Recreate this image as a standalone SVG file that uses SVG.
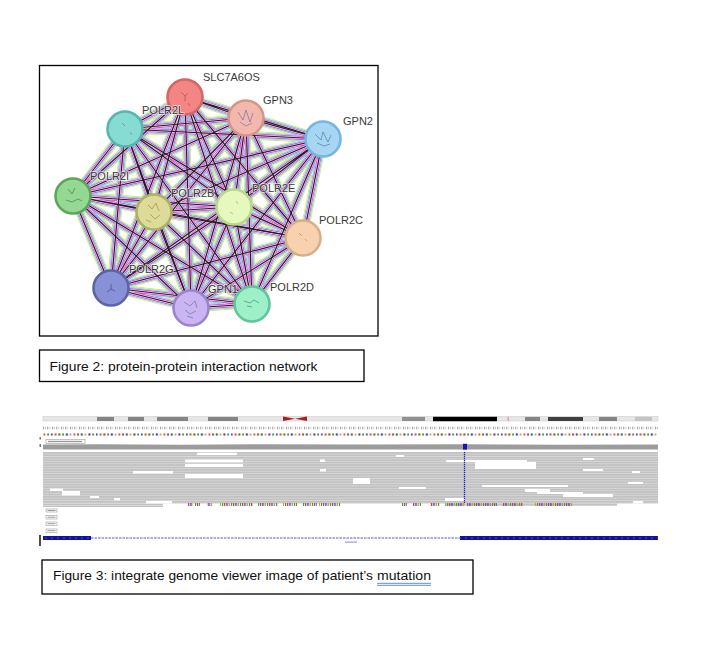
<svg xmlns="http://www.w3.org/2000/svg" xmlns:xlink="http://www.w3.org/1999/xlink" width="721" height="660" viewBox="0 0 721 660">
<style>
.lbl{font-family:"Liberation Sans",Arial,sans-serif;font-size:11px;fill:#3a3a3a;stroke:#fff;stroke-opacity:.6;stroke-width:1.8;paint-order:stroke;stroke-linejoin:round}
.cap{font-family:"Liberation Sans",Arial,sans-serif;font-size:13px;fill:#111}
.box{fill:#fff;stroke:#000;stroke-width:1.3}
.nd{stroke-width:2.6}
.doodle{fill:none;stroke-width:1;opacity:.55}
.band{fill:#858585}
.gap{fill:#fff}
.sb{fill:#fff;stroke:#888;stroke-width:.5}
.smudge{fill:#9a9a9a}
</style>
<defs>
<g id="edgeset">
<path d="M185 97L246 118M185 97L323 139M185 97L125 129M185 97L73 196M185 97L154 212M185 97L234 207M185 97L303 238M185 97L111 288M185 97L191 308M185 97L252 304"/>
<path d="M246 118L323 139M246 118L125 129M246 118L73 196M246 118L154 212M246 118L234 207M246 118L303 238M246 118L111 288M246 118L191 308M246 118L252 304"/>
<path d="M323 139L125 129M323 139L73 196M323 139L154 212M323 139L234 207M323 139L303 238M323 139L111 288M323 139L191 308M323 139L252 304"/>
<path d="M125 129L73 196M125 129L154 212M125 129L234 207M125 129L303 238M125 129L111 288M125 129L191 308M125 129L252 304"/>
<path d="M73 196L154 212M73 196L234 207M73 196L303 238M73 196L111 288M73 196L191 308M73 196L252 304"/>
<path d="M154 212L234 207M154 212L303 238M154 212L111 288M154 212L191 308M154 212L252 304"/>
<path d="M234 207L303 238M234 207L111 288M234 207L191 308M234 207L252 304"/>
<path d="M303 238L111 288M303 238L191 308M303 238L252 304"/>
<path d="M111 288L191 308M111 288L252 304M191 308L252 304"/>
</g>
<pattern id="rows" width="10" height="2.45" patternUnits="userSpaceOnUse" y="452">
<rect width="10" height="2.45" fill="#e4e4e4"/>
<rect width="10" height="1.9" fill="#c2c2c2"/>
</pattern>
<pattern id="seq" width="15" height="3" patternUnits="userSpaceOnUse" x="43" y="433">
<rect x="0.5" y="0.5" width="1.8" height="2" fill="#e04848"/>
<rect x="4.2" y="0.5" width="1.8" height="2" fill="#3a9a3a"/>
<rect x="7.9" y="0.5" width="1.8" height="2" fill="#4848e0"/>
<rect x="11.6" y="0.5" width="1.8" height="2" fill="#e0a040"/>
</pattern>
<pattern id="seq2" width="22.5" height="3" patternUnits="userSpaceOnUse" x="43" y="433">
<rect x="0.5" y="0.5" width="1.8" height="2" fill="#4848e0"/>
<rect x="11.6" y="0.5" width="1.8" height="2" fill="#e04848"/>
<rect x="15.3" y="0.5" width="1.8" height="2" fill="#3a9a3a"/>
</pattern>
<pattern id="ticks" width="9" height="3" patternUnits="userSpaceOnUse" x="43" y="426.5">
<rect x="0" y="0.5" width="1.2" height="2" fill="#8a8a8a"/>
<rect x="2" y="0.8" width="1" height="1.6" fill="#b0b0b0"/>
<rect x="4" y="0.5" width="1.3" height="2" fill="#9a9a9a"/>
<rect x="6.3" y="0.8" width="1" height="1.6" fill="#b5b5b5"/>
</pattern>
<pattern id="mm" width="9" height="3" patternUnits="userSpaceOnUse" x="188" y="503">
<rect x="0" y="0" width="1.3" height="3" fill="#d04040"/>
<rect x="2.3" y="0" width="1.3" height="3" fill="#4040d0"/>
<rect x="4.6" y="0" width="1.3" height="3" fill="#d09040"/>
<rect x="6.9" y="0" width="1.3" height="3" fill="#40a040"/>
</pattern>
<pattern id="genebar" width="6" height="4" patternUnits="userSpaceOnUse" x="43" y="536">
<rect width="6" height="4" fill="#12129a"/>
<rect x="2" y="1.6" width="2" height="0.8" fill="#5a5ad0"/>
</pattern>
</defs>

<!-- Figure 2 network -->
<rect class="box" x="39.5" y="65.5" width="338.5" height="270.5"/>
<g id="connectors" fill="none" stroke-linecap="butt">
<use xlink:href="#edgeset" href="#edgeset" stroke="#cfe45c" stroke-width="8.4"/>
<use xlink:href="#edgeset" href="#edgeset" stroke="#ffffff" stroke-width="7.1" opacity=".75"/>
<use xlink:href="#edgeset" href="#edgeset" stroke="#4cc6e0" stroke-width="6.1"/>
<use xlink:href="#edgeset" href="#edgeset" stroke="#ffffff" stroke-width="4.9" opacity=".75"/>
<use xlink:href="#edgeset" href="#edgeset" stroke="#d23cd2" stroke-width="3.9"/>
<use xlink:href="#edgeset" href="#edgeset" stroke="#ffffff" stroke-width="2.6" opacity=".75"/>
<use xlink:href="#edgeset" href="#edgeset" stroke="#222222" stroke-width="1.2"/>
</g>

<g id="node-SLC7A6OS">
<circle class="nd" cx="185" cy="97" r="17.5" fill="#f38585" stroke="#d86464"/>
<path class="doodle" stroke="#a04040" d="M181 92l4 4 3-3M185 96v5M188 103l2 3"/>
<text class="lbl" x="203" y="81">SLC7A6OS</text>
</g>
<g id="node-GPN3">
<circle class="nd" cx="246" cy="118" r="17.5" fill="#f2b8ac" stroke="#d6948a"/>
<path class="doodle" stroke="#6a5aa0" d="M238 112l5 8 3-10 4 12 3-9M240 122l6 4 6-3"/>
<text class="lbl" x="263" y="104">GPN3</text>
</g>
<g id="node-GPN2">
<circle class="nd" cx="323" cy="139" r="17.5" fill="#a8d6f2" stroke="#72b6e2"/>
<path class="doodle" stroke="#2a6aa0" d="M315 134l6 6 2-8 5 10 3-7M317 143l7 3 6-2"/>
<text class="lbl" x="343" y="125">GPN2</text>
</g>
<g id="node-POLR2L">
<circle class="nd" cx="125" cy="129" r="17.5" fill="#86dbd2" stroke="#56b6ac"/>
<path class="doodle" stroke="#3a7a74" d="M122 123l3 3M130 133l2 1"/>
<text class="lbl" x="142" y="114">POLR2L</text>
</g>
<g id="node-POLR2I">
<circle class="nd" cx="73" cy="196" r="17.5" fill="#94d894" stroke="#5aa65a"/>
<path class="doodle" stroke="#2a702a" d="M68 189l4 5 3-6M66 200l6 2 6-3 4 2"/>
<text class="lbl" x="90" y="180">POLR2I</text>
</g>
<g id="node-POLR2B">
<circle class="nd" cx="154" cy="212" r="17.5" fill="#dcdc98" stroke="#aeae66"/>
<path class="doodle" stroke="#b06a2a" d="M148 205l4 4 4-6 3 8M150 214l5 5 5-4M146 220l5 2"/>
<text class="lbl" x="171" y="196.5">POLR2B</text>
</g>
<g id="node-POLR2E">
<circle class="nd" cx="234" cy="207" r="17.5" fill="#e6f8be" stroke="#b8d88a"/>
<path class="doodle" stroke="#8a9a6a" d="M236 201l2 3M230 212l3 2"/>
<text class="lbl" x="252" y="192">POLR2E</text>
</g>
<g id="node-POLR2C">
<circle class="nd" cx="303" cy="238" r="17.5" fill="#f8d2ae" stroke="#d6ae88"/>
<path class="doodle" stroke="#a07850" d="M299 233l3 3M305 239l2 2"/>
<text class="lbl" x="319" y="224">POLR2C</text>
</g>
<g id="node-POLR2G">
<circle class="nd" cx="111" cy="288" r="17.5" fill="#8890d8" stroke="#5c63a6"/>
<path class="doodle" stroke="#303878" d="M111 284v5l-4 3M111 289l4 2"/>
<text class="lbl" x="129" y="273">POLR2G</text>
</g>
<g id="node-GPN1">
<circle class="nd" cx="191" cy="308" r="17.5" fill="#cbb4f2" stroke="#9a84cc"/>
<path class="doodle" stroke="#4a6a8a" d="M184 302l6 4 5-5 2 7M185 310l5 4 6-3M187 316l6 2"/>
<text class="lbl" x="208" y="293">GPN1</text>
</g>
<g id="node-POLR2D">
<circle class="nd" cx="252" cy="304" r="17.5" fill="#9df0c8" stroke="#62c49a"/>
<path class="doodle" stroke="#2a7a5a" d="M244 301l6 2 4-3 5 3M247 306l5 1"/>
<text class="lbl" x="270" y="291">POLR2D</text>
</g>

<!-- Caption 2 -->
<g id="caption-fig2">
<rect class="box" x="39.5" y="350" width="324.5" height="31.5"/>
<text class="cap" x="49.5" y="371" textLength="268" lengthAdjust="spacingAndGlyphs">Figure 2: protein-protein interaction network</text>
</g>

<!-- Figure 3 IGV -->
<g id="igv">
<rect x="43" y="416.5" width="615" height="4.5" fill="#e6e6e6" stroke="#c6c6c6" stroke-width=".5"/>
<rect class="band" x="97" y="417" width="17" height="4"/>
<rect class="band" x="128" y="417" width="16" height="4"/>
<rect class="band" x="157" y="417" width="31" height="4"/>
<rect class="band" x="208" y="417" width="30" height="4"/>
<polygon points="283,416.5 295,418.8 307,416.5 307,421 295,418.8 283,421" fill="#a52222"/>
<rect x="402" y="417" width="23" height="4" fill="#909090"/>
<rect x="433" y="416.8" width="64" height="4.4" fill="#000"/>
<rect x="507.5" y="417" width="1.5" height="4" fill="#e0a0a0"/>
<rect class="band" x="525" y="417" width="15" height="4"/>
<rect x="548" y="417" width="35" height="4" fill="#404040"/>
<rect class="band" x="599" y="417" width="18" height="4"/>
<rect x="635" y="417" width="17" height="4" fill="#c4c4c4"/>

<rect x="43" y="426.5" width="615" height="3" fill="url(#ticks)"/>
<rect x="43" y="433" width="615" height="3" fill="url(#seq)"/>
<rect x="47" y="433" width="611" height="3" fill="url(#seq2)" opacity=".8"/>

<rect x="39.5" y="437" width="1.5" height="2.5" fill="#777"/>
<rect x="39.5" y="444" width="1.5" height="3" fill="#777"/>
<rect class="sb" x="46" y="439.5" width="39" height="4"/>
<rect class="smudge" x="48" y="440.8" width="34" height="1.4"/>

<path d="M43 444.6L100 444.3L180 444.8L260 444.2L360 444.6L460 444.3L560 444.7L658 444.4V449.5H43Z" fill="#9c9c9c"/>
<rect x="463" y="443.8" width="4" height="5.8" fill="#1414c0"/>

<rect x="43" y="452" width="615" height="51.5" fill="url(#rows)"/>
<rect x="43" y="503.5" width="120" height="3.5" fill="url(#rows)"/>
<rect x="445" y="503.5" width="172" height="2.2" fill="#c2c2c2"/>
<g>
<rect class="gap" x="197" y="452.7" width="40" height="2.4"/>
<rect class="gap" x="185" y="459.5" width="58" height="3"/>
<rect class="gap" x="320" y="459.5" width="5" height="2.5"/>
<rect class="gap" x="185" y="464" width="58" height="3"/>
<rect class="gap" x="320" y="469" width="6" height="2.5"/>
<rect class="gap" x="133" y="471" width="40" height="2.5"/>
<rect class="gap" x="185" y="474" width="58" height="4"/>
<rect class="gap" x="353" y="478" width="17" height="6"/>
<rect class="gap" x="50" y="488.5" width="13" height="2.5"/>
<rect class="gap" x="62" y="491" width="18" height="4.5"/>
<rect class="gap" x="90" y="496" width="9" height="2"/>
<rect class="gap" x="114" y="498" width="6" height="2.5"/>
<rect class="gap" x="146" y="501" width="26" height="2.5"/>
<rect class="gap" x="396" y="455" width="8" height="2"/>
<rect class="gap" x="583" y="458" width="11" height="2"/>
<rect class="gap" x="446" y="460" width="81" height="2.2"/>
<rect class="gap" x="475" y="462" width="61" height="7"/>
<rect class="gap" x="583" y="469" width="20" height="2"/>
<rect class="gap" x="632" y="471" width="8" height="2"/>
<rect class="gap" x="628" y="482" width="15" height="2"/>
<rect class="gap" x="482" y="485" width="86" height="2"/>
<rect class="gap" x="399" y="487" width="27" height="2"/>
<rect class="gap" x="525" y="489" width="25" height="3"/>
<rect class="gap" x="537" y="492" width="46" height="2"/>
<rect class="gap" x="563" y="494" width="50" height="3"/>
<rect class="gap" x="445" y="498" width="20" height="3"/>
<rect class="gap" x="633" y="501" width="10" height="2.5"/>
</g>
<line x1="464.5" y1="452" x2="464.5" y2="503" stroke="#2020d0" stroke-width="1.3" stroke-dasharray="1.2 0.8"/>

<g fill="url(#mm)">
<rect x="188" y="503" width="5" height="3"/>
<rect x="195" y="503" width="5" height="3"/>
<rect x="207" y="503" width="6" height="3"/>
<rect x="220" y="503" width="33" height="3"/>
<rect x="258" y="503" width="20" height="3"/>
<rect x="283" y="503" width="14" height="3"/>
<rect x="302" y="503" width="15" height="3"/>
<rect x="319" y="503" width="21" height="3"/>
<rect x="402" y="503" width="5" height="3"/>
<rect x="413" y="503" width="8" height="3"/>
<rect x="430" y="503" width="10" height="3"/>
<rect x="445" y="503" width="20" height="3"/>
<rect x="467" y="503" width="30" height="3"/>
<rect x="503" y="503" width="20" height="3"/>
<rect x="535" y="503" width="38" height="3"/>
</g>

<rect class="sb" x="46" y="509" width="11" height="3"/>
<rect class="smudge" x="47.5" y="510" width="8" height="1"/>
<rect class="sb" x="46" y="515.5" width="11" height="3.5"/>
<rect class="smudge" x="47.5" y="516.7" width="8" height="1"/>
<rect class="sb" x="46" y="522" width="11" height="3.5"/>
<rect class="smudge" x="47.5" y="523.2" width="8" height="1"/>
<rect class="sb" x="46" y="529" width="11" height="3.5"/>
<rect class="smudge" x="47.5" y="530.2" width="8" height="1"/>

<line x1="40" y1="535" x2="40" y2="546" stroke="#000" stroke-width="1.4"/>
<rect x="43" y="536" width="48" height="4" fill="url(#genebar)"/>
<line x1="91" y1="538" x2="460" y2="538" stroke="#5a5ac8" stroke-width="1" stroke-dasharray="2.5 1"/>
<rect x="460" y="536" width="198" height="4" fill="url(#genebar)"/>
<rect x="345" y="541.5" width="12" height="1.3" fill="#a8a8c8"/>
</g>

<!-- Caption 3 -->
<g id="caption-fig3">
<rect class="box" x="42" y="560" width="431" height="34"/>
<text class="cap" x="53" y="580"><tspan textLength="320" lengthAdjust="spacingAndGlyphs">Figure 3: integrate genome viewer image of patient’s</tspan><tspan x="377" textLength="54" lengthAdjust="spacingAndGlyphs">mutation</tspan></text>
<line x1="377" y1="583.3" x2="431" y2="583.3" stroke="#3a70c0" stroke-width=".8"/>
<line x1="377" y1="585.3" x2="431" y2="585.3" stroke="#3a70c0" stroke-width=".8"/>
</g>
</svg>
